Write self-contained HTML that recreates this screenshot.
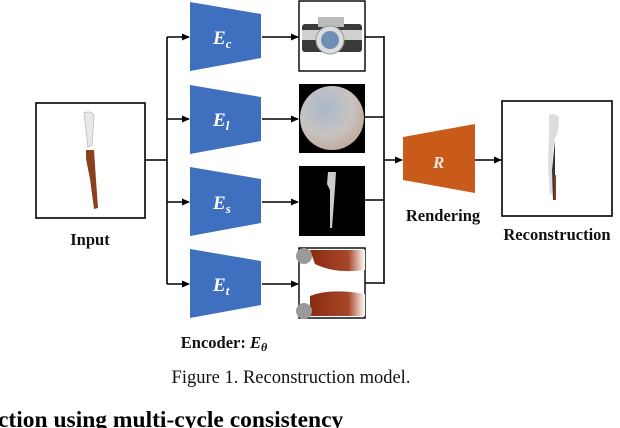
<!DOCTYPE html>
<html><head><meta charset="utf-8"><style>
html,body{margin:0;padding:0;background:#fff;width:620px;height:428px;overflow:hidden}
svg{display:block}
</style></head><body>
<svg width="620" height="428" viewBox="0 0 620 428" xmlns="http://www.w3.org/2000/svg">
<defs>
<marker id="a" markerWidth="8" markerHeight="8" refX="7" refY="4" orient="auto" markerUnits="userSpaceOnUse">
<path d="M0,0.5 L8,4 L0,7.5 z" fill="#000"/></marker>
<radialGradient id="sph" cx="0.4" cy="0.35" r="0.7">
<stop offset="0" stop-color="#a8b8cc"/><stop offset="0.6" stop-color="#c8c3c0"/><stop offset="1" stop-color="#bfa89a"/></radialGradient>
<linearGradient id="br" x1="0" x2="1"><stop offset="0" stop-color="#8a2a10"/><stop offset="0.7" stop-color="#a8482a"/><stop offset="1" stop-color="#fff"/></linearGradient>
</defs>
<g stroke="#000" stroke-width="1.6" fill="none">
<rect x="36" y="103" width="109" height="115"/>
<line x1="145" y1="160" x2="167" y2="160"/>
<line x1="167" y1="37" x2="167" y2="284"/>
<line x1="167" y1="37" x2="189" y2="37" marker-end="url(#a)"/>
<line x1="167" y1="119" x2="189" y2="119" marker-end="url(#a)"/>
<line x1="167" y1="202" x2="189" y2="202" marker-end="url(#a)"/>
<line x1="167" y1="284" x2="189" y2="284" marker-end="url(#a)"/>
<line x1="262" y1="37" x2="298" y2="37" marker-end="url(#a)"/>
<line x1="262" y1="119" x2="298" y2="119" marker-end="url(#a)"/>
<line x1="262" y1="202" x2="298" y2="202" marker-end="url(#a)"/>
<line x1="262" y1="284" x2="298" y2="284" marker-end="url(#a)"/>
<line x1="365" y1="37" x2="384" y2="37"/>
<line x1="365" y1="117" x2="384" y2="117"/>
<line x1="365" y1="200" x2="384" y2="200"/>
<line x1="365" y1="283" x2="384" y2="283"/>
<line x1="384" y1="36" x2="384" y2="284"/>
<line x1="384" y1="160" x2="402" y2="160" marker-end="url(#a)"/>
<line x1="475" y1="160" x2="501" y2="160" marker-end="url(#a)"/>
<rect x="502" y="101" width="110" height="115"/>
</g>
<path d="M84,113 q6,-3 10,2 l-2,30 l-4,2 z" fill="#e8e8e8" stroke="#bbb" stroke-width="0.8"/>
<path d="M86,150 l8,0 l2,30 l2,28 l-4,1 l-4,-30 l-4,-20 z" fill="#8b4020"/>
<g fill="#3f6fbf">
<polygon points="190,2 261,14 261,58 190,71"/>
<polygon points="190,85 261,97 261,141 190,154"/>
<polygon points="190,167 261,179 261,223 190,236"/>
<polygon points="190,249 261,261 261,305 190,318"/>
</g>
<g fill="#fff" font-family="Liberation Serif,serif" font-style="italic" font-weight="bold" font-size="19">
<text x="213" y="44">E<tspan font-size="13" dy="4">c</tspan></text>
<text x="213" y="126">E<tspan font-size="13" dy="4">l</tspan></text>
<text x="213" y="209">E<tspan font-size="13" dy="4">s</tspan></text>
<text x="213" y="291">E<tspan font-size="13" dy="4">t</tspan></text>
</g>
<rect x="299" y="1" width="66" height="70" fill="#fff" stroke="#000" stroke-width="1.4"/>
<rect x="302" y="24" width="60" height="28" rx="3" fill="#3a3a3a"/>
<rect x="302" y="30" width="60" height="10" fill="#d0d0d0"/>
<rect x="318" y="17" width="26" height="10" fill="#bbb"/>
<circle cx="330" cy="40" r="14" fill="#ddd" stroke="#999"/>
<circle cx="330" cy="40" r="9" fill="#6d8fb8"/>
<rect x="299" y="84" width="66" height="69" fill="#000"/>
<circle cx="332" cy="118" r="32" fill="url(#sph)"/>
<rect x="299" y="166" width="66" height="70" fill="#000"/>
<path d="M328,172 l8,0 l-1,16 l-3,40 l-2,0 l0,-38 l-3,-6 z" fill="#ccc"/>
<rect x="299" y="248" width="66" height="70" fill="#fff" stroke="#000" stroke-width="1.4"/>
<path d="M310,250 h55 v20 q-30,4 -50,-6 z" fill="url(#br)"/>
<path d="M310,296 q20,-8 55,-2 v22 h-55 z" fill="url(#br)"/>
<circle cx="304" cy="256" r="8" fill="#999"/>
<circle cx="304" cy="311" r="8" fill="#999"/>
<polygon points="403,137 475,124 475,193 403,180" fill="#c85a1a"/>
<text x="433" y="168" fill="#f3e6dc" font-family="Liberation Serif,serif" font-style="italic" font-weight="bold" font-size="17">R</text>
<path d="M549,115 q6,-2 10,2 l-1,15 l-4,8 l-2,25 l1,28 l-3,2 l-2,-30 l1,-30 z" fill="#ddd"/>
<path d="M555,140 l-3,30 l1,30 l2,0 l0,-30 z" fill="#333"/>
<path d="M554,175 l0,25 l2,0 l0,-25 z" fill="#8b3a20"/>
<g font-family="Liberation Serif,serif" font-weight="bold" fill="#111" font-size="16.5" text-anchor="middle">
<text x="90" y="245">Input</text>
<text x="443" y="221">Rendering</text>
<text x="557" y="240">Reconstruction</text>
<text x="224" y="348">Encoder: <tspan font-style="italic">E<tspan font-size="12" dy="3">θ</tspan></tspan></text>
</g>
<text x="291" y="383" text-anchor="middle" font-family="Liberation Serif,serif" font-size="18.5" fill="#111">Figure 1. Reconstruction model.</text>
<text x="-2" y="427" font-family="Liberation Serif,serif" font-weight="bold" font-size="23.5" fill="#000">ction using multi-cycle consistency</text>
</svg>
</body></html>
